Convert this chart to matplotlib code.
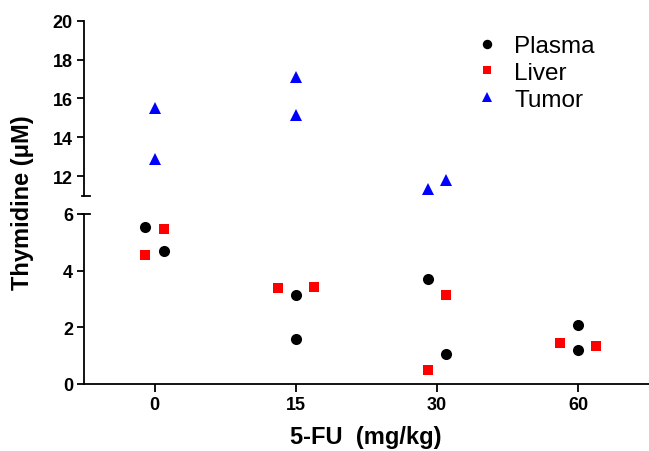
import matplotlib
matplotlib.use('Agg')
import matplotlib.pyplot as plt

plt.rcParams['font.family'] = ['Liberation Sans', 'DejaVu Sans']

# dati (due repliche per dose)
doses = ['0', '15', '30', '60']
plasma = [[5.54, 4.71], [3.15, 1.59], [3.71, 1.06], [2.10, 1.19]]
liver = [[4.55, 5.47], [3.39, 3.44], [0.48, 3.15], [1.44, 1.34]]
tumor = [[15.53, 12.90], [17.13, 15.15], [11.35, 11.83]]

# spostamento orizzontale dei punti (jitter)
plasma_jit = [[-0.065, 0.065], [0, 0], [-0.065, 0.065], [0, 0]]
liver_jit = [[-0.065, 0.065], [-0.128, 0.128], [-0.065, 0.065], [-0.128, 0.128]]
tumor_jit = [[0, 0], [0, 0], [-0.062, 0.065]]


def flatten(vals, jit):
    xs, ys = [], []
    for i, (v, j) in enumerate(zip(vals, jit)):
        for a, b in zip(v, j):
            xs.append(i + b)
            ys.append(a)
    return xs, ys


fig = plt.figure(figsize=(6.49, 4.52), dpi=100)
left, width = 84 / 649, 565 / 649
ax_bot = fig.add_axes([left, 67 / 452, width, 170 / 452])
ax_top = fig.add_axes([left, 255.3 / 452, width, 175 / 452])

series = [
    ('Plasma', plasma, plasma_jit, 'o', 'black', 8),
    ('Liver', liver, liver_jit, 's', '#ff0000', 7.5),
    ('Tumor', tumor, tumor_jit, '^', '#0000ff', 8.5),
]
handles = []
for name, vals, jit, mk, col, ms in series:
    xs, ys = flatten(vals, jit)
    for ax in (ax_bot, ax_top):
        h, = ax.plot(xs, ys, linestyle='none', marker=mk, color=col,
                     markersize=ms, markeredgewidth=0, label=name)
    handles.append(h)

for ax in (ax_bot, ax_top):
    ax.set_xlim(-0.5, 3.5)
    ax.spines['top'].set_visible(False)
    ax.spines['right'].set_visible(False)
    ax.spines['left'].set_linewidth(1.3)
    ax.spines['bottom'].set_linewidth(1.3)
    ax.tick_params(axis='y', length=5, width=1.3, labelsize=13, pad=3)

ax_bot.set_ylim(0, 6)
ax_bot.set_yticks([0, 2, 4, 6])
ax_bot.set_xticks(range(len(doses)))
ax_bot.set_xticklabels(doses)
ax_bot.tick_params(axis='x', length=5.5, width=1.3, labelsize=13, pad=3.5)

ax_top.set_ylim(11, 20)
ax_top.set_yticks([12, 14, 16, 18, 20])
ax_top.spines['bottom'].set_visible(False)
ax_top.set_xticks([])

for ax in (ax_bot, ax_top):
    for lab in ax.get_yticklabels() + ax.get_xticklabels():
        lab.set_fontweight('bold')

# segni di interruzione dell'asse
ax_bot.plot([-0.003, 0.01], [1, 1], transform=ax_bot.transAxes, color='black',
            lw=1.3, clip_on=False)
ax_top.plot([-0.003, 0.01], [0, 0], transform=ax_top.transAxes, color='black',
            lw=1.3, clip_on=False)

fig.text(23 / 649, 1 - 203 / 452, 'Thymidine (\u03bcM)', rotation=90,
         ha='center', va='center', fontsize=17, fontweight='bold')
fig.text(366 / 649, 14 / 452, '5-FU  (mg/kg)', ha='center', va='center',
         fontsize=17, fontweight='bold')

ax_top.legend(handles=handles, loc='upper left',
              bbox_to_anchor=(475 / 649, 1 - 36 / 452),
              bbox_transform=fig.transFigure, frameon=False, fontsize=17.5,
              handlelength=1.0, handletextpad=0.62, labelspacing=0.2,
              borderpad=0, borderaxespad=0, markerscale=0.85)

plt.savefig('out.png', dpi=100)
